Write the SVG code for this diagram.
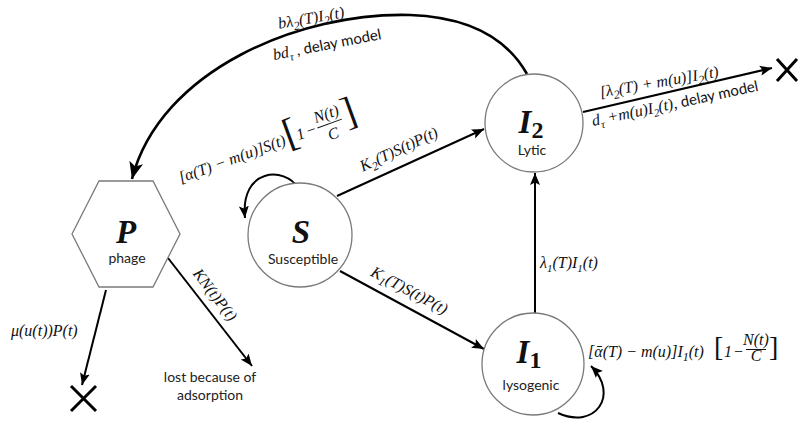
<svg xmlns="http://www.w3.org/2000/svg" width="799" height="424" viewBox="0 0 799 424">
<style>
.node{fill:#fff;stroke:#7a7a7a;stroke-width:1.3}
.big{font-family:"Liberation Serif","DejaVu Serif",serif;font-style:italic;font-weight:bold;font-size:33px;text-anchor:middle;fill:#111}
.lbl{font-family:Lato,"Liberation Sans",sans-serif;font-size:14px;text-anchor:middle;fill:#222}
.m{font-family:"Liberation Serif","DejaVu Serif",serif;font-style:italic;font-size:16px;fill:#111}
.br{font-family:"Liberation Serif","DejaVu Serif",serif;font-style:normal;fill:#111}
.s{font-family:Lato,"Liberation Sans",sans-serif;font-style:normal;font-size:15px}
.c{fill:none;stroke:#000;stroke-width:2}
.x{stroke:#000;stroke-width:3;fill:none}
.bar{stroke:#111;stroke-width:1}
</style>
<defs>
<marker id="arr" markerUnits="userSpaceOnUse" markerWidth="14" markerHeight="12" refX="12" refY="6" orient="auto" viewBox="0 0 14 12"><path d="M0,1 L12,6 L0,11 L2.5,6z" fill="#000"/></marker>
<marker id="arrBig" markerUnits="userSpaceOnUse" markerWidth="19" markerHeight="15" refX="17" refY="7.5" orient="auto" viewBox="0 0 19 15"><path d="M0,0.5 L17,7.5 L0,14.5 L4,7.5z" fill="#000"/></marker>
</defs>
<rect width="799" height="424" fill="#fff"/>

<g id="connectors">
  <path id="e-I2-P" d="M 527 74 C 505 35, 465 17, 410 15 C 300 12, 160 70, 132 179" fill="none" stroke="#000" stroke-width="2.6" marker-end="url(#arrBig)"/>
  <path id="e-S-I2" class="c" d="M 337 196 L 484 129" marker-end="url(#arr)"/>
  <path id="e-S-I1" class="c" d="M 340 271 L 484 349" marker-end="url(#arr)"/>
  <path id="e-I1-I2" class="c" d="M 535 313 L 535 173" marker-end="url(#arr)"/>
  <path id="e-I2-out" class="c" d="M 583 112 L 772 68" marker-end="url(#arr)"/>
  <path id="e-P-out" class="c" d="M 106 290 L 82 385" marker-end="url(#arr)"/>
  <path id="e-P-lost" class="c" d="M 168 258 L 252 366" marker-end="url(#arr)"/>
  <path id="e-S-self" class="c" stroke-width="2.4" d="M 298 188 C 285 166, 240 168, 245 218" marker-end="url(#arr)"/>
  <path id="e-I1-self" class="c" stroke-width="2.4" d="M 558 413 C 595 430, 620 395, 591 366" marker-end="url(#arr)"/>
</g>

<g id="edge-labels">
  <text class="m" font-size="18" transform="translate(312,23) rotate(-10)" text-anchor="middle">bλ<tspan font-size="12" dy="4">2</tspan><tspan dy="-4">(T)I</tspan><tspan font-size="12" dy="4">2</tspan><tspan dy="-4">(t)</tspan></text>
  <text class="m" transform="translate(274,60) rotate(-11)">bd<tspan font-size="11" dy="4">τ</tspan><tspan class="s" dy="-4"> , delay model</tspan></text>

  <text class="m" font-size="17.5" transform="translate(660,87) rotate(-10)" text-anchor="middle">[λ<tspan font-size="12" dy="4">2</tspan><tspan dy="-4">(T) + m(u)]I</tspan><tspan font-size="12" dy="4">2</tspan><tspan dy="-4">(t)</tspan></text>
  <text class="m" transform="translate(593,126) rotate(-12)">d<tspan font-size="11" dy="4">τ</tspan><tspan dy="-4"> +m(u)I</tspan><tspan font-size="11" dy="4">2</tspan><tspan dy="-4">(t),</tspan><tspan class="s"> delay model</tspan></text>

  <g transform="translate(181,183) rotate(-20)">
    <text class="m" x="0" y="0">[α(T) − m(u)]S(t)</text>
    <text class="br" x="113" y="3" font-size="40">[</text>
    <text class="m" x="125" y="0">1</text>
    <text class="m" x="135" y="0">−</text>
    <text class="m" x="160" y="-10" text-anchor="middle">N(t)</text>
    <line class="bar" x1="147" y1="-5" x2="173" y2="-5"/>
    <text class="m" x="160" y="11" text-anchor="middle">C</text>
    <text class="br" x="175" y="3" font-size="40">]</text>
  </g>

  <text class="m" font-size="17" transform="translate(401,154) rotate(-25)" text-anchor="middle">K<tspan font-size="12" dy="4">2</tspan><tspan dy="-4">(T)S(t)P(t)</tspan></text>
  <text class="m" font-size="17" transform="translate(407,295) rotate(28)" text-anchor="middle">K<tspan font-size="12" dy="4">1</tspan><tspan dy="-4">(T)S(t)P(t)</tspan></text>
  <text class="m" x="540" y="268">λ<tspan font-size="11" dy="4">1</tspan><tspan dy="-4">(T)I</tspan><tspan font-size="11" dy="4">1</tspan><tspan dy="-4">(t)</tspan></text>

  <g>
    <text class="m" font-size="17.5" x="588" y="357">[ᾱ(T) − m(u)]I<tspan font-size="12" dy="4">1</tspan><tspan dy="-4">(t)</tspan></text>
    <text class="br" x="714" y="356" font-size="28">[</text>
    <text class="m" x="724" y="357">1</text>
    <text class="m" x="733" y="357">−</text>
    <text class="m" x="756" y="345" font-size="9.5" text-anchor="middle">N(t)</text>
    <line class="bar" x1="746" y1="349.5" x2="766" y2="349.5"/>
    <text class="m" x="756" y="361" font-size="9.5" text-anchor="middle">C</text>
    <text class="br" x="769" y="356" font-size="28">]</text>
  </g>

  <text class="m" font-size="17" x="11" y="336">μ(u(t))P(t)</text>
  <text class="m" transform="translate(211,298) rotate(52)" text-anchor="middle">KN(t)P(t)</text>
</g>

<g id="node-P">
  <polygon class="node" points="72,234 99,181 153,181 180,234 153,287 99,287"/>
  <text class="big" x="126" y="243">P</text>
  <text class="lbl" x="127" y="263">phage</text>
</g>
<g id="node-S">
  <circle class="node" cx="300" cy="235" r="52"/>
  <text class="big" x="301" y="243">S</text>
  <text class="lbl" x="303" y="264">Susceptible</text>
</g>
<g id="node-I2">
  <circle class="node" cx="534" cy="123" r="49"/>
  <text class="big" x="531" y="133">I<tspan font-style="normal" font-size="24" dy="5">2</tspan></text>
  <text class="lbl" x="532" y="155">Lytic</text>
</g>
<g id="node-I1">
  <circle class="node" cx="533" cy="364" r="51"/>
  <text class="big" x="529" y="363">I<tspan font-style="normal" font-size="24" dy="5">1</tspan></text>
  <text class="lbl" x="531" y="390">lysogenic</text>
</g>

<g id="sink-right">
  <path class="x" d="M 777 59 L 797 81 M 797 59 L 777 81"/>
</g>
<g id="sink-bottom">
  <path class="x" d="M 71 386 L 96 411 M 96 386 L 71 411"/>
</g>
<g id="lost-label">
  <text class="lbl" x="210" y="382" text-anchor="start" font-size="15">lost because of</text>
  <text class="lbl" x="210" y="400" text-anchor="start" font-size="15">adsorption</text>
</g>
</svg>
